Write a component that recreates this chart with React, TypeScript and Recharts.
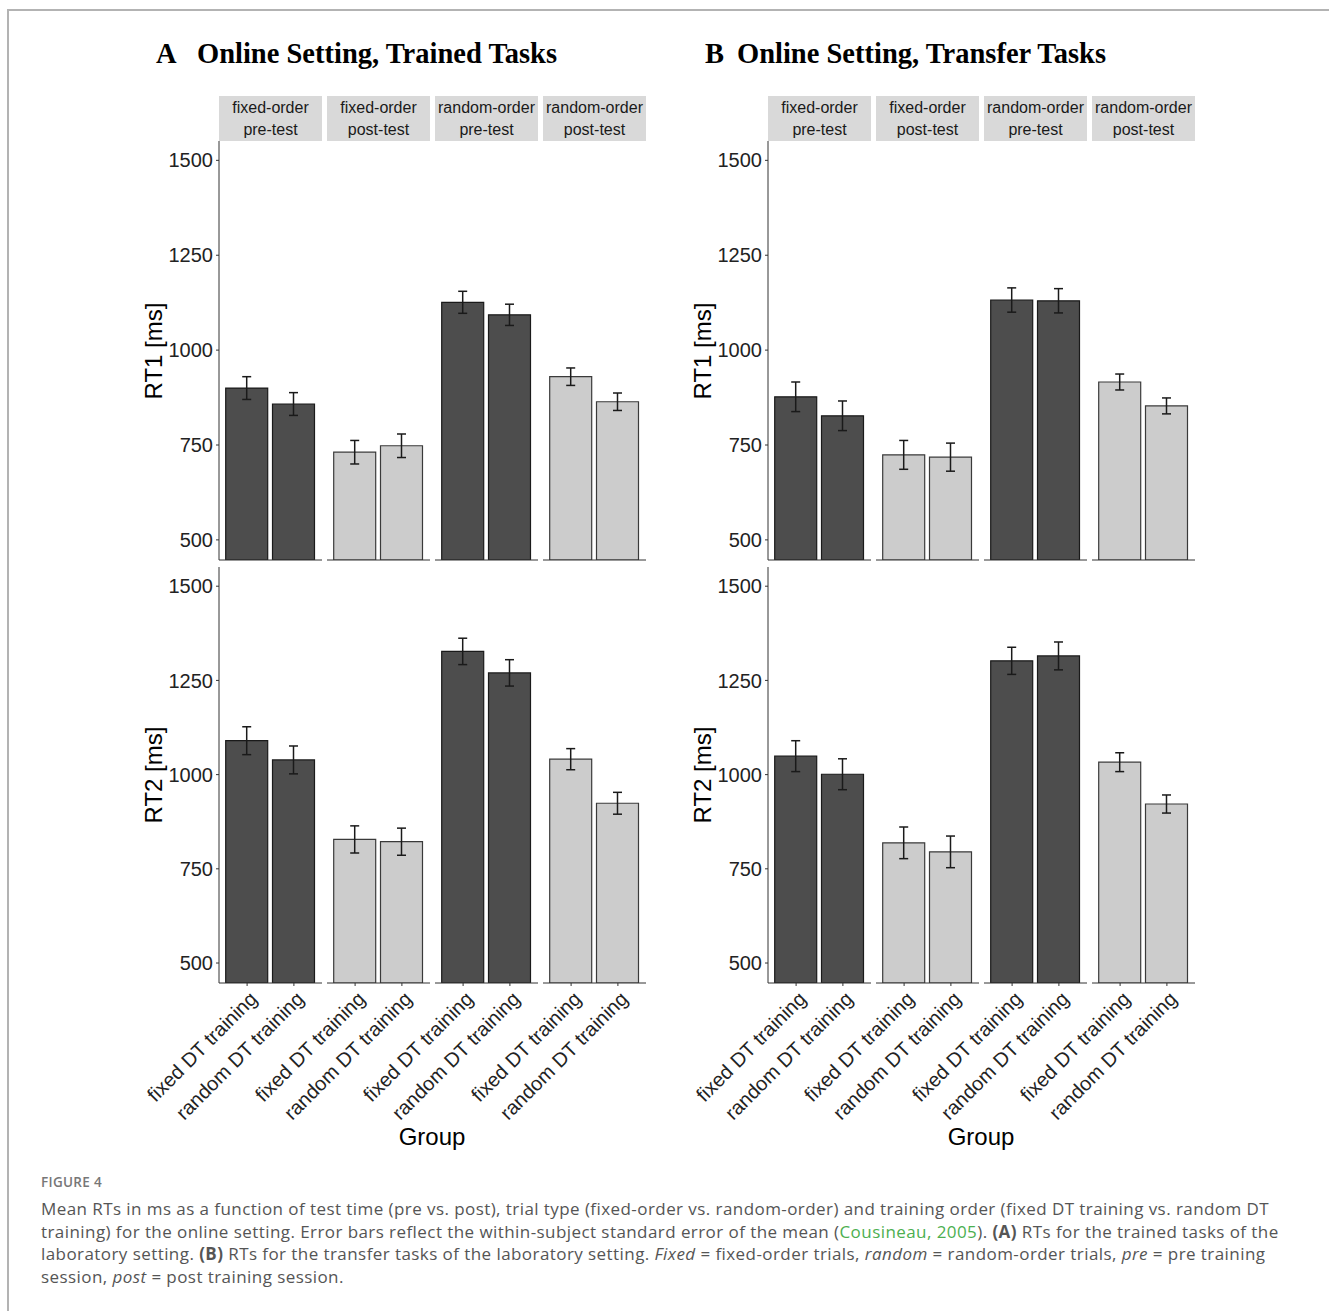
import { BarChart, Bar, XAxis, YAxis, ErrorBar } from "recharts"

const FONT = "'Liberation Sans', Arial, sans-serif"
const SERIF = "'Liberation Serif', 'Times New Roman', serif"

// facets
const facetTrial = ["fixed-order", "fixed-order", "random-order", "random-order"]
const facetTime = ["pre-test", "post-test", "pre-test", "post-test"]
const groups = ["fixed DT training", "random DT training"]
const yTicks = [500, 750, 1000, 1250, 1500]

// means and SE, facet by facet (fixed DT, random DT)
const trainedRT1 = [900, 858, 731, 748, 1126, 1093, 930, 864]
const trainedRT1Se = [30, 30, 31, 31, 29, 28, 23, 23]
const trainedRT2 = [1090, 1039, 828, 822, 1327, 1270, 1041, 924]
const trainedRT2Se = [37, 37, 36, 36, 35, 35, 28, 29]
const transferRT1 = [877, 827, 724, 718, 1132, 1130, 916, 853]
const transferRT1Se = [39, 39, 38, 37, 32, 32, 21, 21]
const transferRT2 = [1049, 1001, 819, 795, 1302, 1315, 1033, 922]
const transferRT2Se = [41, 41, 42, 42, 36, 37, 25, 24]

const FACET_W = 103
const FACET_STEP = 108
const Y_W = 62
const ROW_TOP = [141, 567]
const ROW_H = [419, 416]
const DOMAIN: [number, number] = [447, 1551]

function GroupTick(props: any) {
    const { x, y, payload } = props
    const px = x + 1
    const py = y + 2
    return (
        <text x={px} y={py} transform={`rotate(-45 ${px} ${py})`} textAnchor="end"
            dominantBaseline="hanging" fontSize={20} fill="#222" fontFamily={FONT}>
            {payload.value}
        </text>
    )
}

function Facet(props: any) {
    const { left, top, plotH, values, se, k, showY, showX } = props
    const data = groups.map((g, i) => ({ group: g, rt: values[k * 2 + i], se: se[k * 2 + i] }))
    const pre = k % 2 === 0
    const xH = showX ? 130 : 5
    const w = FACET_W + (showY ? Y_W : 0)
    return (
        <div style={{ position: "absolute", left: left - (showY ? Y_W : 0), top }}>
            <BarChart width={w} height={plotH + xH} data={data} margin={{ top: 0, right: 0, bottom: 0, left: 0 }}>
                <XAxis dataKey="group" height={xH} tickSize={3} tickMargin={2}
                    axisLine={{ stroke: "#333" }} tickLine={{ stroke: "#333" }}
                    padding={{ left: 4.7, right: 4.7 }}
                    tick={showX ? <GroupTick /> : false} interval={0} />
                {showY ? (
                    <YAxis type="number" domain={DOMAIN} ticks={yTicks} allowDataOverflow width={Y_W}
                        tickSize={3} tickMargin={3} axisLine={{ stroke: "#333" }} tickLine={{ stroke: "#333" }}
                        tick={{ fontSize: 20, fill: "#222", fontFamily: FONT }} />
                ) : (
                    <YAxis type="number" domain={DOMAIN} allowDataOverflow hide width={0} />
                )}
                <Bar dataKey="rt" barSize={42} fill={pre ? "#4d4d4d" : "#cccccc"}
                    stroke={pre ? "#1a1a1a" : "#3a3a3a"} strokeWidth={1.2} isAnimationActive={false}>
                    <ErrorBar dataKey="se" width={4.5} stroke="#1a1a1a" strokeWidth={1.5} />
                </Bar>
            </BarChart>
        </div>
    )
}

function Panel(props: any) {
    const { x0, letter, title, titleDx, rows } = props
    const titleStyle: any = { position: "absolute", top: 40, fontFamily: SERIF, fontWeight: "bold", fontSize: 28.5, lineHeight: "28px", color: "#000", whiteSpace: "nowrap" }
    return (
        <>
            <div style={{ ...titleStyle, left: x0 - 63 }}>{letter}</div>
            <div style={{ ...titleStyle, left: x0 + titleDx }}>{title}</div>

            {facetTrial.map((t, k) => (
                <div key={"s" + k} style={{
                    position: "absolute", left: x0 + k * FACET_STEP, top: 96, width: FACET_W, height: 45,
                    background: "#d9d9d9", color: "#1a1a1a", fontSize: 16, lineHeight: "22px",
                    textAlign: "center", paddingTop: 1, boxSizing: "border-box", whiteSpace: "nowrap"
                }}>
                    <div>{t}</div>
                    <div>{facetTime[k]}</div>
                </div>
            ))}

            {rows.map((r: any, ri: number) => (
                <div key={"r" + ri}>
                    <div style={{
                        position: "absolute", left: x0 - 65 - 100, top: ROW_TOP[ri] + ROW_H[ri] / 2 - 15,
                        width: 200, height: 30, lineHeight: "30px", textAlign: "center", fontSize: 24,
                        color: "#000", transform: "rotate(-90deg)"
                    }}>{r.label}</div>
                    {facetTrial.map((_, k) => (
                        <Facet key={k} k={k} left={x0 + k * FACET_STEP} top={ROW_TOP[ri]} plotH={ROW_H[ri]}
                            values={r.values} se={r.se} showY={k === 0} showX={ri === 1} />
                    ))}
                </div>
            ))}

            <div style={{
                position: "absolute", left: x0 + 213 - 100, top: 1123, width: 200, textAlign: "center",
                fontSize: 24, lineHeight: "28px", color: "#000"
            }}>Group</div>
        </>
    )
}

export default function App() {
    return (
        <div style={{ position: "absolute", left: 0, top: 0, width: 1329, height: 1311, background: "#fff", fontFamily: FONT, overflow: "hidden" }}>
            <style>{`.recharts-surface{overflow:visible}`}</style>
            <div style={{ position: "absolute", left: 7, top: 9, width: 1330, height: 1310, borderTop: "2px solid #b3b3b3", borderLeft: "2px solid #b3b3b3" }} />

            <Panel x0={219} letter="A" title="Online Setting, Trained Tasks" titleDx={-22}
                rows={[{ label: "RT1 [ms]", values: trainedRT1, se: trainedRT1Se }, { label: "RT2 [ms]", values: trainedRT2, se: trainedRT2Se }]} />
            <Panel x0={768} letter="B" title="Online Setting, Transfer Tasks" titleDx={-31}
                rows={[{ label: "RT1 [ms]", values: transferRT1, se: transferRT1Se }, { label: "RT2 [ms]", values: transferRT2, se: transferRT2Se }]} />

            <div style={{ position: "absolute", left: 41, top: 1173, fontFamily: "'Open Sans', sans-serif", fontSize: 13.5, fontWeight: 600, color: "#777", letterSpacing: 0.3 }}>FIGURE 4</div>
            <div style={{ position: "absolute", left: 41, top: 1198, fontFamily: "'Open Sans', sans-serif", fontSize: 17, lineHeight: "22.5px", letterSpacing: 0.43, color: "#555", whiteSpace: "nowrap" }}>
                <div>Mean RTs in ms as a function of test time (pre vs. post), trial type (fixed-order vs. random-order) and training order (fixed DT training vs. random DT</div>
                <div>training) for the online setting. Error bars reflect the within-subject standard error of the mean (<span style={{ color: "#4caf50" }}>Cousineau, 2005</span>). <b>(A)</b> RTs for the trained tasks of the</div>
                <div>laboratory setting. <b>(B)</b> RTs for the transfer tasks of the laboratory setting. <i>Fixed</i> = fixed-order trials, <i>random</i> = random-order trials, <i>pre</i> = pre training</div>
                <div>session, <i>post</i> = post training session.</div>
            </div>
        </div>
    )
}
